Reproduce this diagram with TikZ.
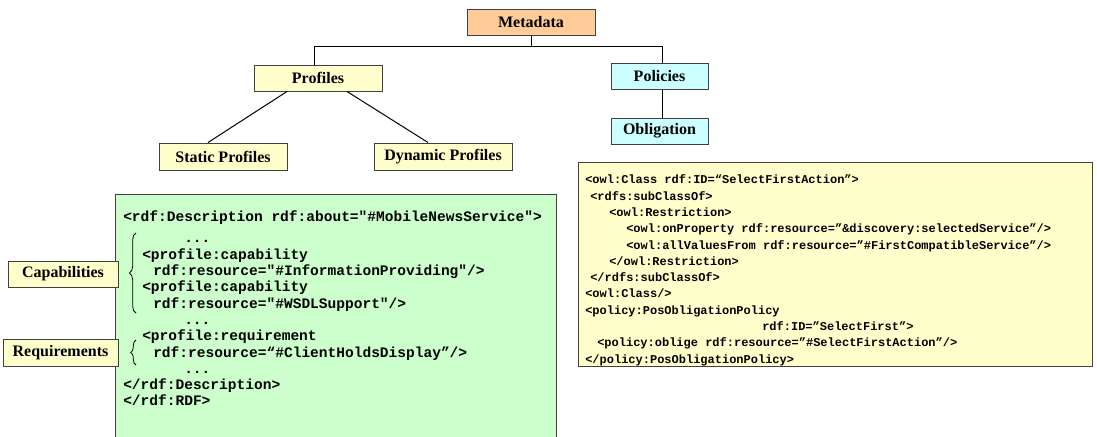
\documentclass[tikz,border=0pt]{standalone}
\usepackage{fontspec}
\setmainfont{Liberation Serif}
\newfontfamily\labelfont{Liberation Serif}
\newfontfamily\codefont{Liberation Mono}
\usetikzlibrary{calc,decorations.pathreplacing,shadows}
\definecolor{metaorange}{HTML}{FFCC99}
\definecolor{paleyellow}{HTML}{FFFFCC}
\definecolor{palecyan}{HTML}{CCFFFF}
\definecolor{palegreen}{HTML}{CCFFCC}
\definecolor{edgegray}{HTML}{404040}
\tikzset{
  labelbox/.style={draw=edgegray, line width=0.75pt, inner sep=0pt,
    font=\labelfont\bfseries\fontsize{12}{14}\selectfont,
    drop shadow={shadow xshift=0.75pt, shadow yshift=-0.75pt, fill=black!70, opacity=1}},
  codebox/.style={draw=edgegray, line width=0.75pt, inner sep=0pt,
    drop shadow={shadow xshift=0.75pt, shadow yshift=-0.75pt, fill=black!70, opacity=1}},
  codeleft/.style={inner sep=0pt, anchor=north west, align=left,
    font=\codefont\bfseries\fontsize{10.9}{12.23}\selectfont},
  coderight/.style={inner sep=0pt, anchor=north west, align=left,
    font=\codefont\bfseries\fontsize{9}{12.23}\selectfont},
  link/.style={draw=black, line width=0.75pt},
  codebrace/.style={draw=black, line width=0.6pt, decorate,
    decoration={brace, amplitude=5pt}}
}
\newcommand{\ind}[1]{\hspace*{#1pt}}
\begin{document}
\begin{tikzpicture}[x=0.75pt,y=-0.75pt]
\useasboundingbox (0,0) rectangle (1097,436);
\clip (0,0) rectangle (1097,436);
% tree nodes
\node[labelbox, fill=metaorange, minimum width=96pt, minimum height=19.5pt] (meta) at (531,22) {Metadata};
\node[labelbox, fill=paleyellow, minimum width=96pt, minimum height=19.5pt] (prof) at (318,78) {Profiles};
\node[labelbox, fill=palecyan, minimum width=72.75pt, minimum height=19.5pt] (pol) at (659.5,76) {Policies};
\node[labelbox, fill=palecyan, minimum width=72.75pt, minimum height=19.5pt] (obl) at (659.5,131) {Obligation};
\node[labelbox, fill=paleyellow, minimum width=96pt, minimum height=20.25pt] (stat) at (223,156.5) {Static Profiles};
\node[labelbox, fill=paleyellow, minimum width=103.5pt, minimum height=20.25pt] (dyn) at (443,156.5) {Dynamic Profiles};
% code boxes
\node[codebox, fill=palegreen, minimum width=330.75pt, minimum height=186pt] (green) at (335.5,318) {};
\node[codebox, fill=paleyellow, minimum width=385.5pt, minimum height=153pt] (yel) at (835,264) {};
% connectors
\coordinate (j) at ($(meta.south)+(0,11)$);
\draw[link] (meta.south) -- (j);
\draw[link] ($(prof.north)+(-4,0)$) |- (j) -| ($(pol.north)+(2.5,0)$);
\draw[link] ($(prof.south)+(-31,0)$) -- ($(stat.north)+(-15,0)$);
\draw[link] ($(prof.south)+(29,0)$) -- ($(dyn.north)+(-15,0)$);
\draw[link] ($(stat.south)+(-6,0)$) -- ($(stat.south)+(-6,0)$ |- green.north);
\draw[link] ($(pol.south)+(2.5,0)$) -- ($(obl.north)+(2.5,0)$);
\draw[link] ($(obl.south)+(-1.5,0)$) -- ($(obl.south)+(-1.5,0)$ |- yel.north);
% left code
\node[codeleft, anchor=base west] (lc1) at (123,221) {<rdf:Description rdf:about="\#MobileNewsService">};
\node[codeleft] (lc2) at (123,231.2) {%
\strut\ind{45.75}...\\
\ind{14.25}<profile:capability\\
\ind{22.5}rdf:resource="\#InformationProviding"/>\\
\ind{14.25}<profile:capability\\
\ind{22.5}rdf:resource="\#WSDLSupport"/>\\
\ind{45.75}...\\
\ind{14.25}<profile:requirement\\
\ind{22.5}rdf:resource=“\#ClientHoldsDisplay”/>\\
\ind{45.75}...\\
</rdf:Description>\\
</rdf:RDF>};
% braces
\coordinate (cb1) at (136,313);
\coordinate (cb2) at (136,233);
\coordinate (rb1) at (136,365);
\coordinate (rb2) at (136,340);
\draw[codebrace] (cb1) -- (cb2);
\draw[codebrace, decoration={brace, amplitude=4pt}] (rb1) -- (rb2);
% side labels
\node[labelbox, fill=paleyellow, minimum width=82.5pt, minimum height=19.5pt] (cap) at (63,274) {Capabilities};
\node[labelbox, fill=paleyellow, minimum width=86.25pt, minimum height=20.25pt] (req) at (60.5,352.5) {Requirements};
% right code
\node[coderight] (rc) at (585,172.1) {%
\strut<owl:Class rdf:ID=“SelectFirstAction”>\\
\ind{3.75}<rdfs:subClassOf>\\
\ind{18}<owl:Restriction>\\
\ind{30.75}<owl:onProperty rdf:resource=”\&discovery:selectedService”/>\\
\ind{30.75}<owl:allValuesFrom rdf:resource=”\#FirstCompatibleService”/>\\
\ind{18}</owl:Restriction>\\
\ind{3.75}</rdfs:subClassOf>\\
<owl:Class/>\\
<policy:PosObligationPolicy\\
\ind{132.75}rdf:ID=”SelectFirst”>\\
\ind{9}<policy:oblige rdf:resource=”\#SelectFirstAction”/>\\
</policy:PosObligationPolicy>};
\end{tikzpicture}
\end{document}
